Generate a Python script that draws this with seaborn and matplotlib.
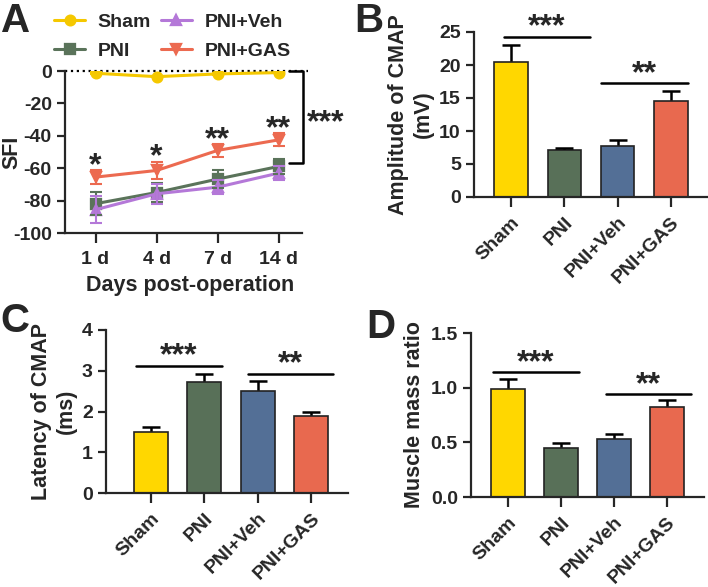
import numpy as np
import pandas as pd
import matplotlib
matplotlib.use("Agg")
import matplotlib.pyplot as plt
import seaborn as sns

# ---- data ----
groups = ["Sham", "PNI", "PNI+Veh", "PNI+GAS"]
days = ["1 d", "4 d", "7 d", "14 d"]

sfi_sham = [-1.4, -3.5, -1.8, -1.0]
sfi_pni = [-81.9, -75.0, -66.7, -58.9]
sfi_veh = [-85.6, -75.8, -71.7, -63.0]
sfi_gas = [-65.5, -61.4, -49.0, -42.5]
sfi_sham_err = [0.5, 0.5, 0.5, 0.5]
sfi_pni_err = [7.0, 6.0, 5.5, 4.5]
sfi_veh_err = [8.4, 6.0, 4.5, 4.5]
sfi_gas_err = [4.5, 5.5, 4.0, 4.0]
sfi_stars = ["*", "*", "**", "**"]

amp_mean = [20.5, 7.1, 7.8, 14.5]
amp_err = [2.6, 0.35, 0.9, 1.5]
lat_mean = [1.49, 2.73, 2.51, 1.89]
lat_err = [0.13, 0.19, 0.25, 0.09]
mass_mean = [0.99, 0.45, 0.53, 0.82]
mass_err = [0.09, 0.04, 0.05, 0.07]

bar_colors = ["#FFD700", "#587058", "#536F96", "#E8694F"]
line_colors = ["#F5C800", "#5A735A", "#B478D8", "#EC6A50"]
line_markers = ["o", "s", "^", "v"]

sns.set_style("ticks")
plt.rcParams["font.family"] = ["Liberation Sans", "DejaVu Sans"]
plt.rcParams["font.weight"] = "bold"
plt.rcParams["axes.labelweight"] = "bold"
plt.rcParams["axes.unicode_minus"] = False
plt.rcParams["axes.linewidth"] = 1.6
plt.rcParams["xtick.major.width"] = 1.6
plt.rcParams["ytick.major.width"] = 1.6
plt.rcParams["xtick.major.size"] = 7
plt.rcParams["ytick.major.size"] = 6
plt.rcParams["xtick.labelsize"] = 14
plt.rcParams["ytick.labelsize"] = 14

W, H = 708, 587
fig = plt.figure(figsize=(W / 100, H / 100), dpi=100)


def px_axes(l, t, r, b):
    return fig.add_axes([l / W, 1 - b / H, (r - l) / W, (b - t) / H])


STAR = 23
LAB = 15.5


def stars(ax, x, y, s, off):
    # asterisks placed by baseline, offset in points from the data point
    ax.annotate(s, xy=(x, y), xytext=(0, off), textcoords="offset points", ha="center",
                va="baseline", fontsize=STAR, fontweight="bold", annotation_clip=False)


# ---- panel A: SFI line plot ----
axA = px_axes(65, 71, 302, 233)
sfi = pd.DataFrame({
    "day": days * 4,
    "group": np.repeat(groups, 4),
    "SFI": sfi_sham + sfi_pni + sfi_veh + sfi_gas,
})
sns.pointplot(data=sfi, x="day", y="SFI", hue="group", order=days, hue_order=groups,
              palette=line_colors, markers=line_markers, linestyles="-", errorbar=None,
              markersize=7, linewidth=2.2, ax=axA)
for vals, errs, c in zip([sfi_sham, sfi_pni, sfi_veh, sfi_gas],
                         [sfi_sham_err, sfi_pni_err, sfi_veh_err, sfi_gas_err], line_colors):
    axA.errorbar(range(4), vals, yerr=errs, fmt="none", ecolor=c, elinewidth=1.5,
                 capsize=4, capthick=1.5)
handles, labels = axA.get_legend_handles_labels()
axA.legend_.remove()
fig.legend(handles, labels, ncol=2, loc="upper left", bbox_to_anchor=(54 / W, 1 - 13 / H),
           frameon=False, fontsize=14, handlelength=1.6, columnspacing=0.5,
           labelspacing=0.6, handletextpad=0.65, borderpad=0, borderaxespad=0)

axA.plot([-0.5, 3.48], [0, 0], ls=":", color="black", lw=1.6, clip_on=False, zorder=0)
for i, s in enumerate(sfi_stars):
    stars(axA, i, sfi_gas[i] + sfi_gas_err[i], s, -3)
axA.plot([3.16, 3.39, 3.39, 3.16], [0, 0, -57, -57], color="black", lw=1.8, clip_on=False)
stars(axA, 3.76, -29.6, "***", -9)

axA.set_ylim(-100, 0)
axA.set_xlim(-0.5, 3.38)
axA.set_yticks([0, -20, -40, -60, -80, -100])
axA.set_xlabel("Days post-operation", fontsize=LAB)
axA.set_ylabel("SFI", fontsize=LAB)
axA.xaxis.set_label_coords(0.53, -42 / 162)
axA.yaxis.set_label_coords(-43 / 237, 0.5)
axA.tick_params(axis="x", pad=6)
sns.despine(ax=axA)


# ---- bar panels ----
def bar_panel(box, means, errs, ylim, yticks, ylabel, sig1, sig2, xlim):
    ax = px_axes(*box)
    sns.barplot(x=groups, y=means, hue=groups, palette=bar_colors, legend=False,
                width=0.63, edgecolor="#222222", linewidth=1.2, saturation=1, ax=ax)
    x = np.arange(len(groups))
    top = np.array(means) + np.array(errs)
    ax.vlines(x, means, top, color="black", lw=1.8, zorder=0)
    ax.hlines(top, x - 0.17, x + 0.17, color="black", lw=1.8, zorder=3)
    for (x0, x1, y, s) in (sig1, sig2):
        ax.plot([x0, x1], [y, y], color="black", lw=1.8, clip_on=False)
        stars(ax, (x0 + x1) / 2, y, s, 1)
    ax.set_ylim(*ylim)
    ax.set_xlim(*xlim)
    ax.set_yticks(yticks)
    ax.set_ylabel(ylabel, fontsize=LAB, linespacing=1.2, labelpad=4)
    ax.tick_params(axis="x", length=7, pad=5)
    for lab in ax.get_xticklabels():
        lab.set_rotation(45)
        lab.set_ha("right")
        lab.set_rotation_mode("anchor")
        lab.set_fontsize(14)
        lab.set_fontweight("bold")
    sns.despine(ax=ax)
    return ax


axB = bar_panel((474, 32, 707, 197), amp_mean, amp_err, (0, 25), [0, 5, 10, 15, 20, 25],
                "Amplitude of CMAP\n(mV)",
                (-0.13, 1.48, 24.3, "***"), (1.68, 3.32, 17.2, "**"), (-0.7, 3.68))
axC = bar_panel((106, 330, 348, 493), lat_mean, lat_err, (0, 4), [0, 1, 2, 3, 4],
                "Latency of CMAP\n(ms)",
                (-0.28, 1.33, 3.12, "***"), (1.82, 3.41, 2.92, "**"), (-0.84, 3.69))
axD = bar_panel((471, 333, 704, 497), mass_mean, mass_err, (0, 1.5), [0.0, 0.5, 1.0, 1.5],
                "Muscle mass ratio",
                (-0.28, 1.34, 1.14, "***"), (1.85, 3.45, 0.94, "**"), (-0.7, 3.7))
axD.set_yticklabels(["0.0", "0.5", "1.0", "1.5"])

# ---- panel letters ----
for letter, px, py in (("A", 1, 2), ("B", 354, 2), ("C", 0, 302), ("D", 366, 308)):
    fig.text(px / W, 1 - py / H, letter, fontsize=29, fontweight="bold", ha="left", va="top")

fig.savefig("out.png", dpi=100)
